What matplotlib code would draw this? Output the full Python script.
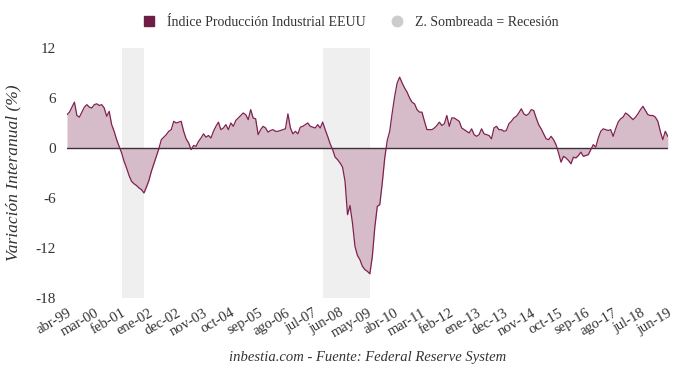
import numpy as np
import pandas as pd
import matplotlib
matplotlib.use('Agg')
import matplotlib.pyplot as plt
from matplotlib.lines import Line2D

plt.rcParams['font.family'] = ['Liberation Serif', 'DejaVu Serif']

# US industrial production, year-on-year change (%), monthly from abr-99
yoy = [4.0, 4.3, 4.9, 5.5, 3.9, 3.7, 4.3, 4.9, 5.2, 4.9, 4.8, 5.2,
       5.3, 5.1, 5.2, 4.8, 3.8, 4.4, 2.8, 2.0, 1.0, 0.2, -0.6, -1.6,
       -2.4, -3.3, -4.0, -4.3, -4.5, -4.8, -5.0, -5.4, -4.7, -3.9, -2.8, -1.9,
       -1.0, -0.1, 1.0, 1.3, 1.6, 2.0, 2.2, 3.2, 3.0, 3.1, 3.2, 2.0,
       1.1, 0.6, -0.2, 0.3, 0.2, 0.8, 1.2, 1.7, 1.3, 1.5, 1.2, 2.0,
       2.6, 3.1, 2.2, 2.4, 2.8, 2.2, 3.0, 2.6, 3.3, 3.6, 3.9, 4.2,
       4.0, 3.4, 4.6, 3.6, 3.5, 1.6, 2.2, 2.6, 2.4, 1.9, 2.1, 2.2,
       2.0, 2.0, 2.1, 2.2, 2.3, 4.1, 2.4, 1.7, 2.0, 1.7, 2.5, 2.6,
       2.8, 3.0, 2.6, 2.5, 2.4, 2.8, 2.4, 3.1, 2.2, 1.4, 0.5, -0.2,
       -1.1, -1.4, -1.8, -2.3, -4.0, -8.0, -6.9, -9.0, -11.8, -12.9, -13.4, -14.2,
       -14.6, -14.8, -15.1, -13.0, -9.5, -7.0, -6.8, -4.2, -1.2, 0.9, 2.0, 4.2,
       6.2, 7.8, 8.5, 7.8, 7.2, 6.7, 6.0, 5.5, 5.3, 4.6, 4.3, 4.3,
       3.2, 2.2, 2.2, 2.2, 2.4, 2.7, 3.1, 2.7, 2.9, 3.9, 2.6, 3.6,
       3.6, 3.4, 3.2, 2.4, 2.2, 2.0, 1.8, 2.3, 1.6, 1.4, 1.6, 2.3,
       1.7, 1.6, 1.5, 1.1, 2.4, 2.6, 2.2, 2.2, 2.0, 2.1, 2.9, 3.2,
       3.6, 3.8, 4.2, 4.7, 4.1, 3.9, 4.1, 4.6, 4.5, 3.6, 2.8, 2.3,
       1.7, 1.1, 1.0, 1.4, 1.0, 0.4, -0.6, -1.7, -1.0, -1.2, -1.5, -1.9,
       -1.1, -1.2, -0.9, -0.5, -1.0, -0.9, -0.8, -0.2, 0.4, 0.1, 1.2, 2.0,
       2.3, 2.2, 2.1, 2.2, 1.4, 2.3, 3.1, 3.5, 3.7, 4.2, 4.0, 3.7,
       3.4, 3.7, 4.1, 4.6, 5.0, 4.5, 4.0, 3.9, 3.9, 3.7, 3.2, 2.0,
       1.0, 2.0, 1.4]

dates = pd.date_range('1999-04-01', periods=len(yoy), freq='MS')

# NBER recessions
rec_start = ['2001-03-01', '2007-12-01']
rec_end = ['2001-11-01', '2009-06-01']

mes = ['ene', 'feb', 'mar', 'abr', 'may', 'jun',
       'jul', 'ago', 'sep', 'oct', 'nov', 'dec']

line_col = '#80214f'
fill_col = '#d6bcc8'
shade_col = '#efefef'
text_col = '#333333'

x = np.arange(len(yoy))
y = np.array(yoy)

fig = plt.figure(figsize=(6.8, 3.69), dpi=100)
ax = fig.add_axes([0.0985, 0.1924, 0.8835, 0.6776])

for s, e in zip(rec_start, rec_end):
    i0 = dates.get_loc(pd.Timestamp(s))
    i1 = dates.get_loc(pd.Timestamp(e))
    ax.axvspan(i0 - 0.7, i1 + 0.2, color=shade_col, lw=0, zorder=0)

ax.fill_between(x, y, 0, color=fill_col, lw=0, zorder=1)
ax.plot(x, y, color=line_col, lw=0.9, zorder=3)
ax.axhline(0, color='#3d3038', lw=1.0, zorder=2)

ax.set_xlim(0, len(yoy) - 1)
ax.set_ylim(-18, 12)
ax.set_yticks([-18, -12, -6, 0, 6, 12])
ax.set_yticklabels(['-18', '-12', '-6', '0', '6', '12'], fontsize=11, color=text_col)

tick_idx = x[::11]
tick_lab = [mes[d.month - 1] + '-' + d.strftime('%y') for d in dates[tick_idx]]
ax.set_xticks(tick_idx)
ax.set_xticklabels(tick_lab, rotation=30, ha='right', rotation_mode='anchor',
                   fontsize=10.5, color=text_col)
ax.tick_params(length=0, pad=6)
ax.tick_params(axis='y', pad=8)

for sp in ax.spines.values():
    sp.set_visible(False)

ax.set_ylabel('Variación Interanual (%)', style='italic', fontsize=12.5,
              color=text_col, labelpad=10)

handles = [Line2D([], [], ls='', marker='s', ms=7.5, color='#6e1d45'),
           Line2D([], [], ls='', marker='o', ms=7.5, color='#cccccc')]
fig.legend(handles, ['Índice Producción Industrial EEUU', 'Z. Sombreada = Recesión'],
           loc='center', bbox_to_anchor=(0.51, 0.94), ncol=2, frameon=False,
           fontsize=10, handletextpad=0.3, columnspacing=1.2,
           labelcolor=text_col)

fig.text(0.54, 0.022, 'inbestia.com - Fuente: Federal Reserve System',
         ha='center', style='italic', fontsize=10.5, color=text_col)

fig.savefig('out.png', dpi=100)
